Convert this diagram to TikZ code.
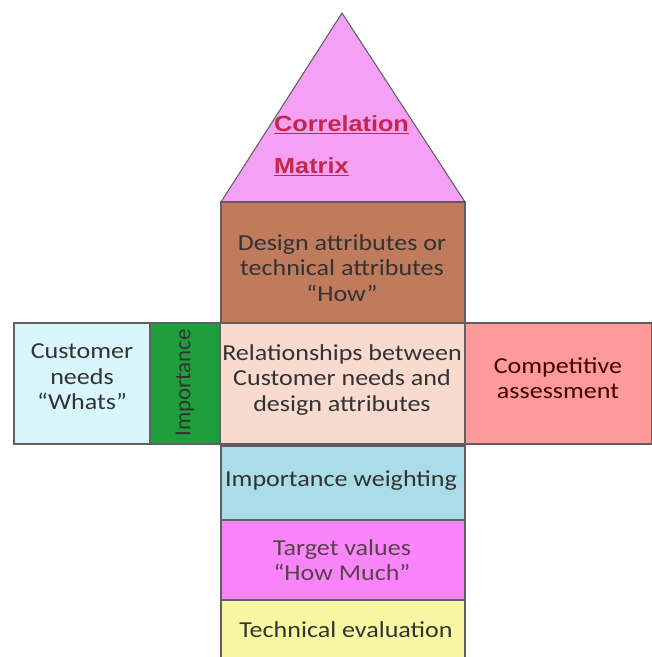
\documentclass[tikz,border=0pt]{standalone}
\usepackage{fontspec}
\setmainfont[FakeStretch=1.14]{Carlito}
\newfontfamily\plainfont{Carlito}
\newfontfamily\headfont[FakeStretch=1.15]{Liberation Sans}
\definecolor{roofpink}{RGB}{244,160,244}
\definecolor{howbrown}{RGB}{192,122,92}
\definecolor{whatcyan}{RGB}{216,246,252}
\definecolor{impgreen}{RGB}{30,158,60}
\definecolor{relpeach}{RGB}{248,218,206}
\definecolor{comppink}{RGB}{255,154,154}
\definecolor{weightblue}{RGB}{170,220,234}
\definecolor{targetpink}{RGB}{250,132,250}
\definecolor{techyellow}{RGB}{248,248,162}
\definecolor{corrred}{RGB}{192,40,80}
\definecolor{edgegray}{RGB}{96,96,96}
\begin{document}
\begin{tikzpicture}[x=0.02cm, y=-0.02cm,
  box/.style={draw=edgegray, line width=0.6pt},
  label/.style={align=center, font=\fontsize{13}{14.5}\selectfont, text=black!80}]
% Page size, in pixels of the reference
\clip (0,0) rectangle (652,657);

% Roof: correlation matrix
\draw[box, fill=roofpink] (221,202) -- (342,13) -- (465,202) -- cycle;
\node[anchor=west, font=\headfont\bfseries\fontsize{12.5}{14}\selectfont, text=corrred] (corr) at (268,125) {\underline{Correlation}};
\node[anchor=west, font=\headfont\bfseries\fontsize{12.5}{14}\selectfont, text=corrred] (matrix) at (268,167) {\underline{Matrix}};

% Hows
\draw[box, fill=howbrown] (221,202) rectangle (465,323);
\node[label] (hows) at (342,268) {Design attributes or\\technical attributes\\``How''};

% Middle row
\draw[box, fill=whatcyan] (14,323) rectangle (150,444);
\node[label] (whats) at (82,377) {Customer\\needs\\``Whats''};
\draw[box, fill=impgreen] (150,323) rectangle (220,444);
\node[label, rotate=90, font=\plainfont\fontsize{13}{14.5}\selectfont] (imp) at (185,383) {Importance};
\draw[box, fill=relpeach] (220,323) rectangle (465,444);
\node[label] (rel) at (342,380) {Relationships between\\Customer needs and\\design attributes};
\draw[box, fill=comppink] (465,323) rectangle (652,444);
\node[label, text=black!75!red] (comp) at (558,378) {Competitive\\assessment};

% Basement
\draw[box, fill=weightblue] (221,446) rectangle (465,520);
\node[label] (weight) at (341,481) {Importance weighting};
\draw[box, fill=targetpink] (221,520) rectangle (465,600);
\node[label, text=black!75!magenta] (target) at (342,560) {Target values\\``How Much''};
\draw[box, fill=techyellow] (221,600) rectangle (465,670);
\node[label] (tech) at (346,630) {Technical evaluation};
\end{tikzpicture}
\end{document}
